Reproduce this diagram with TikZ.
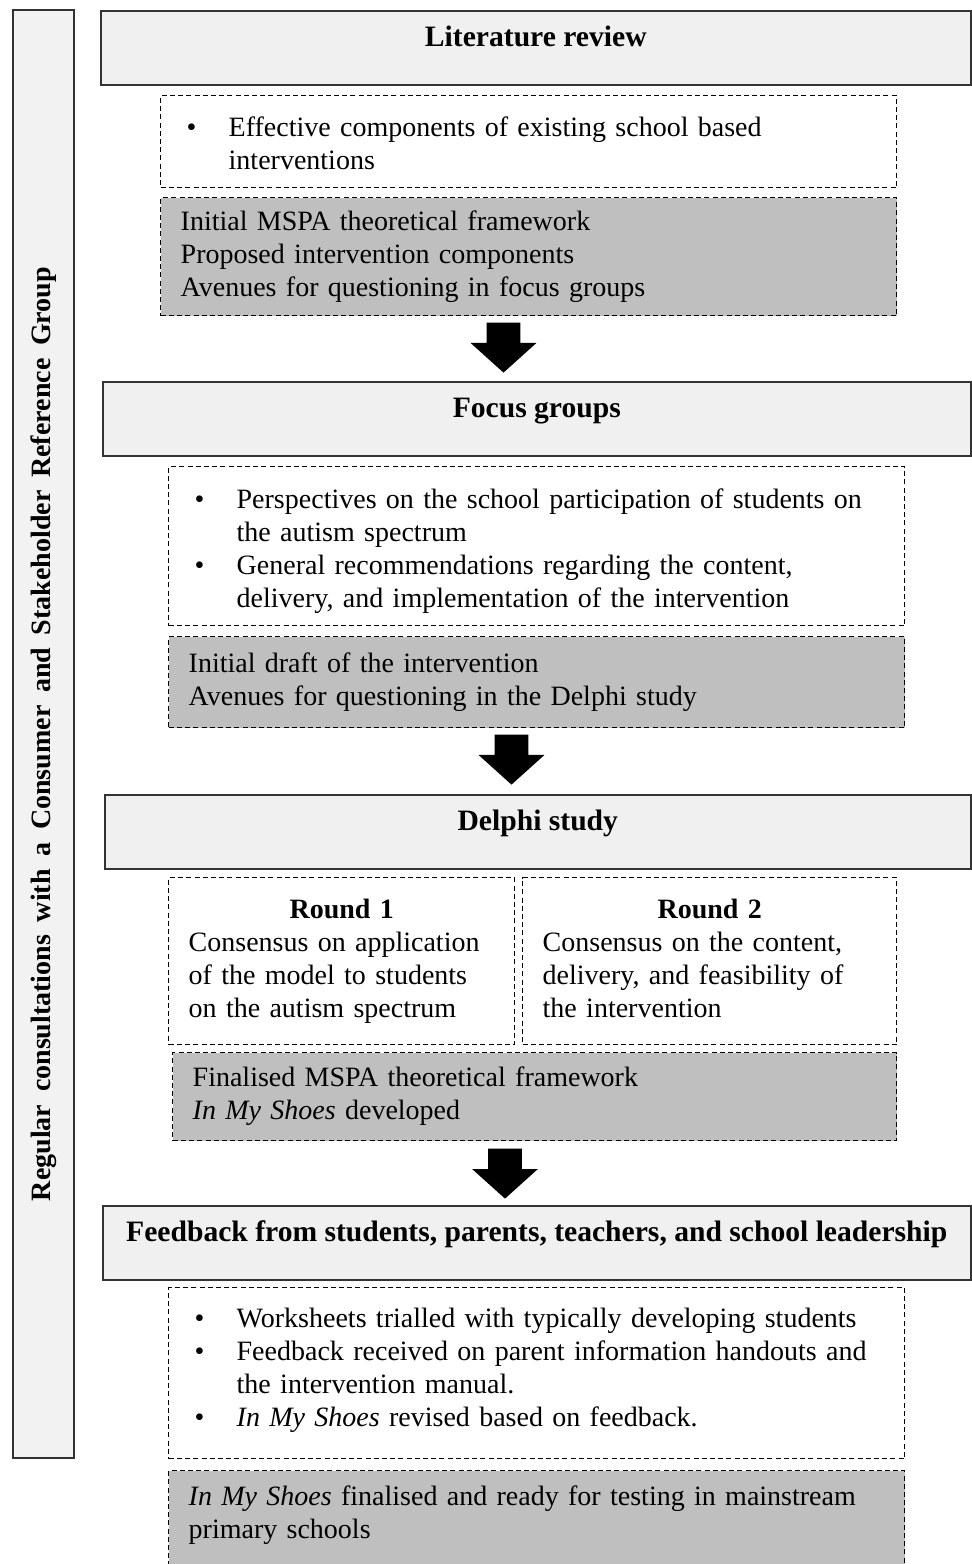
\documentclass[tikz,border=0pt]{standalone}
\usepackage{fontspec}
\setmainfont{Liberation Serif}
\usetikzlibrary{shapes.arrows}
\setlength{\parindent}{0pt}
% bullet item with hanging indent
\newcommand{\bul}[1]{\par\hangindent=21pt\hangafter=1\noindent\strut\hbox to 21pt{\textbullet\hfil}#1\strut\par}

\tikzset{
  stage/.style={draw=black!80, line width=0.8pt, fill=black!6, anchor=north west,
    minimum width=434pt, inner xsep=4pt, inner ysep=0pt, text height=18pt, text depth=19pt,
    font=\fontsize{14.8}{16.5}\selectfont\bfseries},
  note/.style={draw, line width=0.7pt, dash pattern=on 2.5pt off 1.6pt, anchor=north west,
    align=left, inner xsep=13pt, inner ysep=0pt},
  result/.style={note, fill=black!25, inner xsep=10pt, execute at begin node=\strut,
    execute at end node={\strut\par}},
  round/.style={result, fill=none},
  blockarrow/.style={single arrow, fill=black, rotate=-90, inner xsep=0pt, inner ysep=8.25pt,
    text height=0pt, text depth=0pt, single arrow head extend=8pt, single arrow tip angle=96,
    minimum width=25pt, minimum height=25pt}
}

\begin{document}
\fontsize{14}{16.5}\selectfont
\begin{tikzpicture}[x=0.5pt, y=-0.5pt]
\useasboundingbox (0,0) rectangle (972,1564);

% side bar
\node (side) [draw=black!80, line width=0.8pt, fill=black!5, rotate=90, minimum width=724pt,
  minimum height=30.5pt, inner sep=0pt, font=\bfseries] at (43.5,734)
  {\makebox[467pt][s]{Regular consultations with a Consumer and Stakeholder Reference Group}};

% literature review
\node (lit) [stage, minimum width=435pt] at (100,10) {Literature review};
\node (lit-in) [note, text width=342pt, minimum height=46pt] at (160,95)
  {\bul{Effective components of existing school based\newline interventions}};
\node (lit-out) [result, text width=348pt, minimum height=59pt] at (160,197)
  {Initial MSPA theoretical framework\\ Proposed intervention components\\ Avenues for questioning in focus groups};
\node (arr1) [blockarrow] at (503.5,340) {};

% focus groups
\node (focus) [stage] at (102,381) {Focus groups};
\node (focus-in) [note, text width=342pt, minimum height=79.5pt] at (168,466)
  {\bul{Perspectives on the school participation of students on\newline the autism spectrum}
   \bul{General recommendations regarding the content,\newline delivery, and implementation of the intervention}};
\node (focus-out) [result, text width=348pt, minimum height=45.5pt] at (168,636)
  {Initial draft of the intervention\\ Avenues for questioning in the Delphi study};
\node (arr2) [blockarrow] at (511.5,752) {};

% delphi study
\node (delphi) [stage, minimum width=433pt] at (104,794) {Delphi study};
\node (round1) [round, text width=153pt, minimum height=83.5pt] at (168,877)
  {{\centering\bfseries Round 1\par}Consensus on application\\ of the model to students\\ on the autism spectrum};
\node (round2) [round, text width=167pt, minimum height=83.5pt] at (522,877)
  {{\centering\bfseries Round 2\par}Consensus on the content,\\ delivery, and feasibility of\\ the intervention};
\node (delphi-out) [result, text width=342pt, minimum height=44pt] at (172,1052)
  {Finalised MSPA theoretical framework\\ \textit{In My Shoes} developed};
\node (arr3) [blockarrow] at (505,1166) {};

% feedback
\node (feed) [stage] at (102,1205) {Feedback from students, parents, teachers, and school leadership};
\node (feed-in) [note, text width=342pt, text height=3.5pt, text depth=82pt] at (168,1287)
  {\bul{Worksheets trialled with typically developing students}
   \bul{Feedback received on parent information handouts and\newline the intervention manual.}
   \bul{\textit{In My Shoes} revised based on feedback.}};
\node (feed-out) [result, text width=348pt, text height=17.3pt, text depth=33.7pt] at (168,1470)
  {\textit{In My Shoes} finalised and ready for testing in mainstream\\ primary schools};

\end{tikzpicture}
\end{document}
